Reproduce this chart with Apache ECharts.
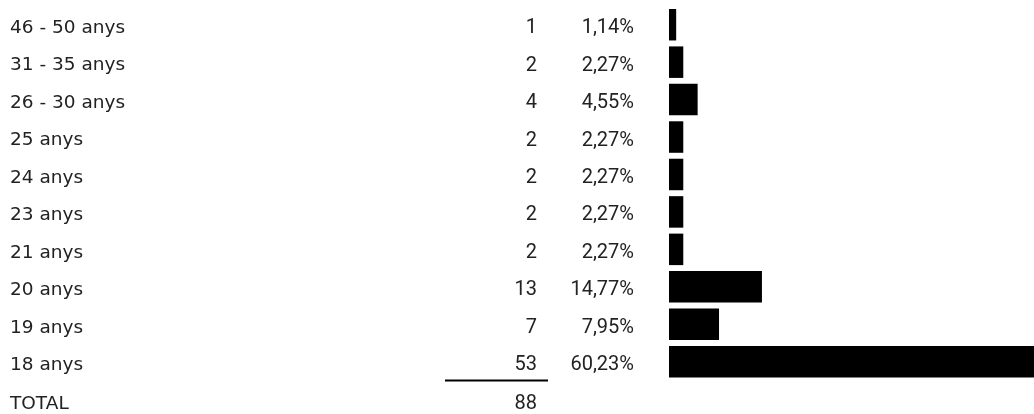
<!DOCTYPE html>
<html><head><meta charset="utf-8">
<script src="https://cdn.jsdelivr.net/npm/echarts@6/dist/echarts.min.js"></script>
<style>html,body{margin:0;padding:0;background:#fff}#c{width:1034px;height:414px}</style>
</head><body><div id="c"></div>
<script>
const categories = ['46 - 50 anys','31 - 35 anys','26 - 30 anys','25 anys','24 anys','23 anys','21 anys','20 anys','19 anys','18 anys'];
const counts = [1,2,4,2,2,2,2,13,7,53];
const percents = [1.14,2.27,4.55,2.27,2.27,2.27,2.27,14.77,7.95,60.23];
const totalLabel = 'TOTAL';
const total = 88;

const fmtPct = v => v.toFixed(2).replace('.', ',') + '%';
const labelFont = '"DejaVu Sans", sans-serif';
const numFont = 'Roboto, sans-serif';
const chart = echarts.init(document.getElementById('c'), null, {renderer:'canvas'});
const baseY = {
  type:'category', data: categories, inverse:true, position:'left',
  axisLine:{show:false}, axisTick:{show:false}, splitLine:{show:false}
};
const richFor = (font, size) => ({t:{fontFamily:font, fontSize:size, color:'#222', padding:[7,0,0,0]}});
chart.setOption({
  animation:false,
  grid:{left:669, right:0, top:6, height:374.4, containLabel:false},
  xAxis:{type:'value', min:0, max:58, show:false},
  yAxis:[
    Object.assign({}, baseY, {axisLabel:{align:'left', margin:659, rich:richFor(labelFont,18.5),
      formatter:(v)=>'{t|'+v+'}'}}),
    Object.assign({}, baseY, {axisLabel:{align:'right', margin:132, rich:richFor(numFont,20),
      formatter:(v,i)=>'{t|'+counts[i]+'}'}}),
    Object.assign({}, baseY, {axisLabel:{align:'right', margin:35, rich:richFor(numFont,20),
      formatter:(v,i)=>'{t|'+fmtPct(percents[i])+'}'}})
  ],
  series:[{type:'bar', data:percents, barWidth:31.5, clip:true, itemStyle:{color:'#000'}, yAxisIndex:0}],
  graphic:[
    {type:'line', shape:{x1:445,y1:380.5,x2:548,y2:380.5}, style:{stroke:'#000', lineWidth:2}},
    {type:'text', x:10, y:404, style:{text:totalLabel, font:'18.5px '+labelFont, fill:'#222', verticalAlign:'middle'}},
    {type:'text', x:537, y:404, style:{text:String(total), font:'20px '+numFont, fill:'#222', align:'right', verticalAlign:'middle'}}
  ]
});
</script></body></html>
